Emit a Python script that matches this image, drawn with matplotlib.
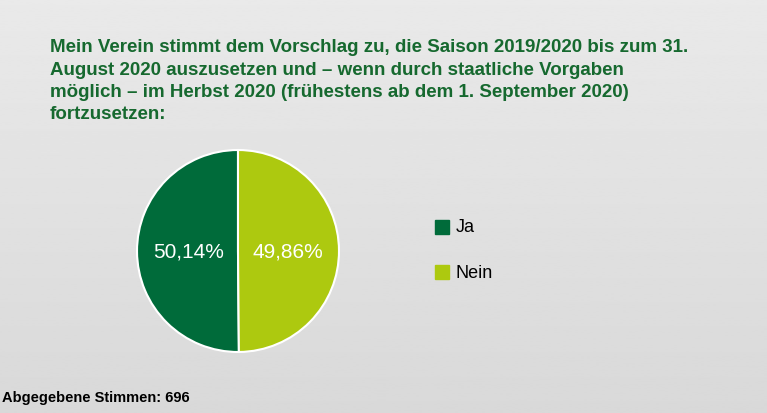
import numpy as np
from matplotlib import pyplot as plt
from matplotlib.patches import Rectangle

labels = ["Ja", "Nein"]
shares = [50.14, 49.86]
colors = ["#006b3a", "#adc90f"]
title = ("Mein Verein stimmt dem Vorschlag zu, die Saison 2019/2020 bis zum 31.\n"
         "August 2020 auszusetzen und \u2013 wenn durch staatliche Vorgaben\n"
         "möglich \u2013 im Herbst 2020 (frühestens ab dem 1. September 2020)\n"
         "fortzusetzen:")
footer = "Abgegebene Stimmen: 696"

plt.rcParams['font.family'] = ['Liberation Sans', 'DejaVu Sans']

W, H = 767, 414
fig = plt.figure(figsize=(W / 100, H / 100), dpi=100)

# background gradient
bg = fig.add_axes([0, 0, 1, 1])
grad = np.linspace(0.915, 0.85, 256).reshape(-1, 1)
bg.imshow(grad, cmap='gray', vmin=0, vmax=1, aspect='auto', extent=[0, 1, 0, 1])
bg.set_axis_off()

fig.text(50 / W, 1 - 39.5 / H, title, ha='left', va='top', fontsize=13.5,
         fontweight='bold', color='#16692f', linespacing=1.4)

cx, cy, r = 238, 252, 102
ax = fig.add_axes([(cx - r) / W, 1 - (cy + r) / H, 2 * r / W, 2 * r / H])
wedges, texts, autotexts = ax.pie(
    shares, colors=colors, startangle=90, counterclock=True,
    autopct=lambda p: f"{p:.2f}%".replace('.', ','), pctdistance=0.49,
    wedgeprops=dict(edgecolor='white', linewidth=1.5),
    textprops=dict(color='white', fontsize=15))
ax.set_xlim(-1.01, 1.01)
ax.set_ylim(-1.01, 1.01)
ax.set_aspect('equal')

# legend
for i, (lab, col) in enumerate(zip(labels, colors)):
    y = 228 + i * 45
    fig.patches.append(Rectangle((435 / W, 1 - (y + 7) / H), 14 / W, 14 / H,
                                 transform=fig.transFigure, color=col))
    fig.text(456 / W, 1 - y / H, lab, ha='left', va='center', fontsize=13,
             color='black')

fig.text(2 / W, 1 - 398 / H, footer, ha='left', va='center', fontsize=10.5,
         fontweight='bold', color='black')

fig.savefig('out.png', dpi=100)
